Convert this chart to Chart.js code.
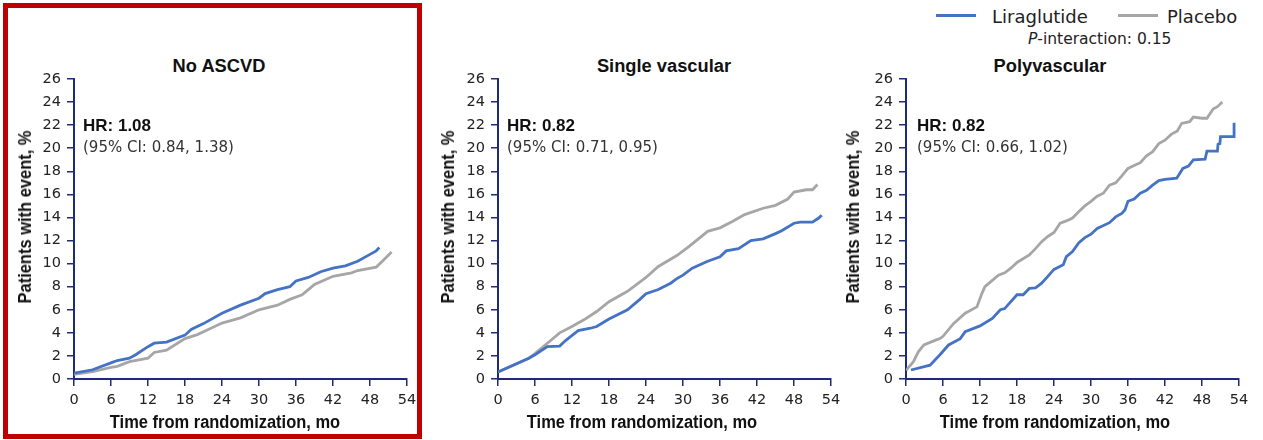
<!DOCTYPE html>
<html>
<head>
<meta charset="utf-8">
<script src="https://cdn.jsdelivr.net/npm/chart.js@4.4.1/dist/chart.umd.min.js"></script>
<style>
  body { margin:0; width:1263px; height:440px; background:#fff; position:relative; overflow:hidden;
         font-family:"DejaVu Sans", sans-serif; color:#222; }
  .txt { position:absolute; white-space:nowrap; line-height:1; transform:translate(-50%,-50%); }
  .txt.left { transform:translate(0,-50%); }
  .ttl { font-family:"Liberation Sans",Arial,sans-serif; font-weight:bold; font-size:18.3px; color:#111; }
  .axt { font-family:"Liberation Sans",Arial,sans-serif; font-weight:bold; font-size:18px; color:#111; }
  .txt.xt { transform:translate(-50%,-50%) scaleX(0.915); }
  .txt.yt { transform:translate(-50%,-50%) rotate(-90deg) scaleX(0.915); }
  .hr { font-family:"Liberation Sans",Arial,sans-serif; font-weight:bold; font-size:17px; color:#111; }
  .ci { font-size:15px; color:#333; }
  .lg { font-size:18px; color:#222; }
  .pint { font-size:15.5px; color:#222; }
  .panel { position:absolute; top:50px; }
  .key { position:absolute; height:3px; width:40px; top:14px; }
  #frame { position:absolute; left:3px; top:3px; width:419px; height:436px; border:5px solid #C00000; box-sizing:border-box; }
</style>
</head>
<body>

<div id="frame"></div>

<!-- legend -->
<div class="key" style="left:936px; background:#4472C4;"></div>
<div class="txt left lg" style="left:992px; top:17px;">Liraglutide</div>
<div class="key" style="left:1118px; background:#A6A6A6;"></div>
<div class="txt left lg" style="left:1167px; top:17px;">Placebo</div>
<div class="txt left pint" style="left:1028px; top:40px;"><i>P</i>-interaction: 0.15</div>

<!-- panel titles -->
<div class="txt ttl" style="left:219px; top:66px;">No ASCVD</div>
<div class="txt ttl" style="left:664px; top:66px;">Single vascular</div>
<div class="txt ttl" style="left:1050px; top:66px;">Polyvascular</div>

<canvas id="c1" class="panel" style="left:4px;" width="423" height="390"></canvas>
<canvas id="c2" class="panel" style="left:428px;" width="423" height="390"></canvas>
<canvas id="c3" class="panel" style="left:836px;" width="423" height="390"></canvas>

<!-- axis titles -->
<div class="txt axt yt" style="left:25px; top:217px;">Patients with event, %</div>
<div class="txt axt yt" style="left:448px; top:217px;">Patients with event, %</div>
<div class="txt axt yt" style="left:853px; top:217px;">Patients with event, %</div>
<div class="txt axt xt" style="left:225px; top:422px;">Time from randomization, mo</div>
<div class="txt axt xt" style="left:642px; top:422px;">Time from randomization, mo</div>
<div class="txt axt xt" style="left:1055px; top:422px;">Time from randomization, mo</div>

<!-- hazard ratios -->
<div class="txt left hr" style="left:83px; top:125px;">HR: 1.08</div>
<div class="txt left ci" style="left:83px; top:147px;">(95% CI: 0.84, 1.38)</div>
<div class="txt left hr" style="left:507px; top:125px;">HR: 0.82</div>
<div class="txt left ci" style="left:507px; top:147px;">(95% CI: 0.71, 0.95)</div>
<div class="txt left hr" style="left:917px; top:125px;">HR: 0.82</div>
<div class="txt left ci" style="left:917px; top:147px;">(95% CI: 0.66, 1.02)</div>

<script>
// ---- data (months, % with event) ----

// No ASCVD
const liraMonths1 = [0,3,6,7,9,10,12,13,15,18,19,21,24,27,30,31,33,35,36,38,40,42,44,46,48,49,49.5];
const liraValues1 = [0.5,0.8,1.4,1.6,1.8,2.1,2.8,3.1,3.2,3.8,4.3,4.8,5.7,6.4,7.0,7.4,7.75,8.0,8.5,8.8,9.3,9.6,9.8,10.2,10.8,11.1,11.4];
const plaMonths1 = [0,3,6,7,9,12,13,15,18,20,21,24,27,30,33,35,37,38,39,42,45,46,49,50,51.5];
const plaValues1 = [0.4,0.65,1.0,1.1,1.5,1.8,2.3,2.5,3.5,3.85,4.1,4.85,5.3,6.0,6.4,6.9,7.3,7.75,8.2,8.9,9.2,9.4,9.7,10.2,11.0];

// Single vascular
const liraMonths2 = [0,5,6,8,10,11,13,15,16,18,21,23,24,26,28,29,30,31.5,34,36,37,39,41,43,45,46,48,49,51,52,52.5];
const liraValues2 = [0.6,1.8,2.1,2.8,2.85,3.35,4.2,4.4,4.55,5.2,6.0,6.9,7.4,7.75,8.3,8.7,9.0,9.6,10.2,10.6,11.1,11.3,12.0,12.15,12.6,12.85,13.5,13.6,13.6,13.95,14.2];
const plaMonths2 = [0,5,6,8,10,12,14,16,18,21,24,26,29,31,34,36,38,40,43,45,47,48,50,51,51.8];
const plaValues2 = [0.6,1.8,2.2,3.1,4.0,4.55,5.15,5.85,6.7,7.6,8.8,9.75,10.7,11.5,12.8,13.1,13.65,14.25,14.8,15.05,15.6,16.2,16.4,16.4,16.85];

// Polyvascular
const liraMonths3 = [0.8,3.9,5.5,6.9,8.8,9.6,12,14,15.3,16,18,19,20,21,22,23,24,25.5,26,27,28,29,30,31,33,34,35,35.5,36,37,38,39,40,41,42,43.9,44.9,45.8,46.6,48.5,48.8,50.5,50.6,50.9,51.0,53.2,53.2];
const liraValues3 = [0.78,1.2,2.1,2.95,3.5,4.1,4.6,5.25,6.0,6.1,7.3,7.3,7.85,7.9,8.3,8.9,9.5,9.9,10.6,11.05,11.8,12.25,12.55,13.05,13.55,14.05,14.35,14.65,15.4,15.6,16.1,16.35,16.8,17.2,17.3,17.4,18.25,18.45,19.0,19.05,19.75,19.75,20.35,20.4,21.0,21.0,22.2];
const plaMonths3 = [0,1.2,2,2.9,4.5,5.5,6,7.7,9.6,11.5,12.3,12.8,13.9,15,16,17,18,20,21,22,23,24,25,26,27,28,29,30,31,32,33,34,35,36,37,38,39,40,41,42,43,44,44.7,46,46.6,48,48.8,49.8,50.5,51.3];
const plaValues3 = [0.75,1.5,2.35,2.95,3.3,3.5,3.7,4.8,5.7,6.25,7.4,8.0,8.5,9.0,9.2,9.6,10.1,10.75,11.3,11.9,12.35,12.7,13.5,13.7,13.95,14.5,15.0,15.4,15.85,16.1,16.8,17.0,17.6,18.25,18.5,18.75,19.35,19.7,20.4,20.7,21.2,21.5,22.15,22.3,22.7,22.6,22.6,23.4,23.6,24.0];

const monthTicks = [0,6,12,18,24,30,36,42,48,54];
const pctTicks = [0,2,4,6,8,10,12,14,16,18,20,22,24,26];

// ---- styling ----
const axisBlue = '#1F2A78';
const tickFont = { family: 'DejaVu Sans', size: 14.5 };

function toPoints(xs, ys) {
  return xs.map((x, i) => ({ x: x, y: ys[i] }));
}

function makePanel(id, liraX, liraY, plaX, plaY) {
  const ctx = document.getElementById(id).getContext('2d');
  return new Chart(ctx, {
    type: 'line',
    data: {
      datasets: [{
        label: 'Liraglutide',
        data: toPoints(liraX, liraY),
        borderColor: '#4472C4',
        borderWidth: 2.8,
        pointRadius: 0,
        tension: 0
      }, {
        label: 'Placebo',
        data: toPoints(plaX, plaY),
        borderColor: '#A6A6A6',
        borderWidth: 2.8,
        pointRadius: 0,
        tension: 0
      }]
    },
    options: {
      responsive: false,
      animation: false,
      events: [],
      devicePixelRatio: 1,
      layout: { padding: { top: 29, right: 20, bottom: 0, left: 0 } },
      plugins: { legend: { display: false }, tooltip: { enabled: false } },
      scales: {
        x: {
          type: 'linear',
          min: 0, max: 54,
          afterBuildTicks: s => { s.ticks = monthTicks.map(v => ({ value: v })); },
          afterFit: s => { s.height = 61; },
          ticks: { font: tickFont, color: '#222', padding: 6, maxRotation: 0, autoSkip: false },
          grid: { drawOnChartArea: false, drawTicks: true, tickLength: 7, color: axisBlue, lineWidth: 1.5 },
          border: { color: axisBlue, width: 2 }
        },
        y: {
          min: 0, max: 26,
          afterBuildTicks: s => { s.ticks = pctTicks.map(v => ({ value: v })); },
          afterFit: s => { s.width = 70; },
          ticks: { font: tickFont, color: '#222', padding: 6, autoSkip: false },
          grid: { drawOnChartArea: false, drawTicks: true, tickLength: 7, color: axisBlue, lineWidth: 1.5 },
          border: { color: axisBlue, width: 2 }
        }
      }
    }
  });
}

makePanel('c1', liraMonths1, liraValues1, plaMonths1, plaValues1);
makePanel('c2', liraMonths2, liraValues2, plaMonths2, plaValues2);
makePanel('c3', liraMonths3, liraValues3, plaMonths3, plaValues3);
</script>
</body>
</html>
